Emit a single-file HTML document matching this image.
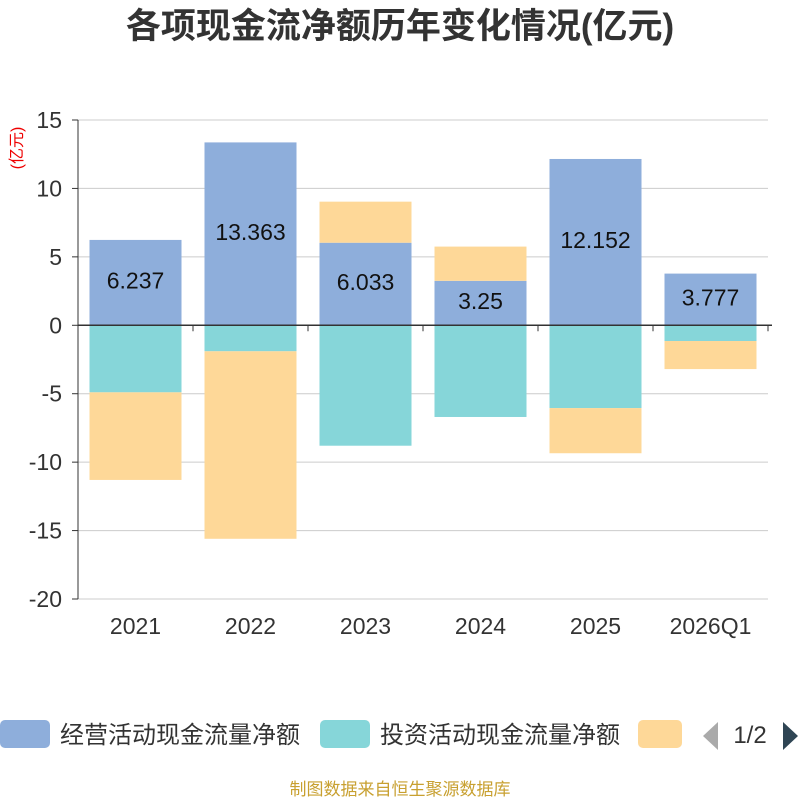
<!DOCTYPE html>
<html><head><meta charset="utf-8"><style>
body{margin:0;background:#fff;width:800px;height:800px;overflow:hidden;font-family:"Liberation Sans","Noto Sans CJK SC",sans-serif}
</style></head><body>
<svg id="c" width="800" height="800" xmlns="http://www.w3.org/2000/svg">
<text x="400" y="38" text-anchor="middle" font-size="35" font-weight="bold" fill="#333" font-family="Liberation Sans,Noto Sans CJK SC,sans-serif">各项现金流净额历年变化情况(亿元)</text>
<text x="22" y="148" text-anchor="middle" font-size="16" fill="#e00" transform="rotate(-90 22 148)" font-family="Liberation Sans,Noto Sans CJK SC,sans-serif">(亿元)</text>
<g id="grid"></g><g id="bars"></g><g id="axes"></g>
<g font-family="Liberation Sans,Noto Sans CJK SC,sans-serif" font-size="24" fill="#333">
<rect x="0" y="720" width="50" height="28" rx="5" fill="#8eaedb"/>
<text x="60" y="743">经营活动现金流量净额</text>
<rect x="320" y="720" width="50" height="28" rx="5" fill="#86d6d9"/>
<text x="380" y="743">投资活动现金流量净额</text>
<rect x="638" y="720" width="44" height="28" rx="5" fill="#fed898"/>
<polygon points="718,722 718,750 703,736" fill="#aaa"/>
<text x="750" y="743" text-anchor="middle">1/2</text>
<polygon points="783,722 783,750 798,736" fill="#2f4554"/>
</g>
<text x="400" y="795" text-anchor="middle" font-size="17" fill="#c8a030" font-family="Liberation Sans,Noto Sans CJK SC,sans-serif">制图数据来自恒生聚源数据库</text>
</svg>
<script>
const categories=["2021","2022","2023","2024","2025","2026Q1"];
const operating=[6.237,13.363,6.033,3.25,12.152,3.777];
const investing=[-4.9,-1.9,-8.8,-6.7,-6.05,-1.15];
const financing=[-6.4,-13.7,3.0,2.5,-3.3,-2.05];
const yTicks=[15,10,5,0,-5,-10,-15,-20];
const NS="http://www.w3.org/2000/svg";
const x0=78,x1=768,yTop=120,yBot=599,ymax=15,ymin=-20;
const y=v=>yTop+(ymax-v)/(ymax-ymin)*(yBot-yTop);
const band=(x1-x0)/categories.length;
function mk(tag,attrs,parent){const e=document.createElementNS(NS,tag);for(const k in attrs)e.setAttribute(k,attrs[k]);parent.appendChild(e);return e;}
const grid=document.getElementById('grid'),bars=document.getElementById('bars'),axes=document.getElementById('axes');
yTicks.forEach(t=>{
 const l=mk('line',{x1:x0,x2:x1,y1:y(t),y2:y(t),stroke:'#ccc','stroke-width':1},grid);
 
 
 const tx=mk('text',{x:x0-16,y:y(t)+8,'text-anchor':'end','font-size':23,fill:'#333'},axes);
 tx.textContent=t;
 
 
 const tk=mk('line',{x1:x0-6,x2:x0,y1:y(t),y2:y(t),stroke:'#333'},axes);
 
 
});
const ya=mk('line',{x1:x0,x2:x0,y1:yTop,y2:yBot,stroke:'#333'},axes);


const xa=mk('line',{x1:x0,x2:x1+4,y1:y(0),y2:y(0),stroke:'#333','stroke-width':1.5},axes);


const bw=92;
categories.forEach((c,i)=>{
 const cx=x0+band*(i+0.5),bx=cx-bw/2;
 let pos=0,neg=0;
 [[operating[i],'#8eaedb','bar-operating'],[investing[i],'#86d6d9','bar-investing'],[financing[i],'#fed898','bar-financing']].forEach(([v,col,name])=>{
  let a,b;
  if(v>=0){a=pos;b=pos+v;pos=b;}else{a=neg;b=neg+v;neg=b;}
  const r=mk('rect',{x:bx,width:bw,y:Math.min(y(a),y(b)),height:Math.abs(y(a)-y(b)),fill:col},bars);
  
  
 });
 const lb=mk('text',{x:cx,y:y(operating[i]/2)+6,'text-anchor':'middle','font-size':23,fill:'#111'},bars);
 lb.textContent=operating[i];
 
 
 const tk=mk('line',{x1:x0+band*(i+1),x2:x0+band*(i+1),y1:y(0),y2:y(0)+6,stroke:'#333'},axes);
 
 
 const xl=mk('text',{x:cx,y:634,'text-anchor':'middle','font-size':23,fill:'#333'},axes);
 xl.textContent=c;
 
 
});
</script>
</body></html>
